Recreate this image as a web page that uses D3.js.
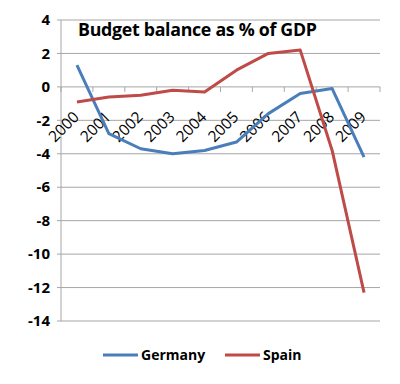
<!DOCTYPE html>
<html>
<head>
<meta charset="utf-8">
<script src="https://cdn.jsdelivr.net/npm/d3@7"></script>
<style>
  body { margin: 0; background: #fff; }
  svg { font-family: "Open Sans", sans-serif; }
</style>
</head>
<body>
<div id="chart"></div>
<script>
// data
const years = ["2000", "2001", "2002", "2003", "2004", "2005", "2006", "2007", "2008", "2009"];
const germany = [1.3, -2.8, -3.7, -4.0, -3.8, -3.3, -1.6, -0.4, -0.1, -4.2];
const spain = [-0.9, -0.6, -0.5, -0.2, -0.3, 1.0, 2.0, 2.2, -3.8, -12.3];
const yTicks = [4, 2, 0, -2, -4, -6, -8, -10, -12, -14];
const seriesNames = ["Germany", "Spain"];
const colors = ["#4a7ebb", "#be4b48"];

const W = 400, H = 384;
const margin = { top: 20, right: 20, bottom: 63, left: 61 };
const width = W - margin.left - margin.right;
const height = H - margin.top - margin.bottom;

const svg = d3.select("#chart").append("svg")
    .attr("width", W).attr("height", H);
const g = svg.append("g")
    .attr("transform", `translate(${margin.left},${margin.top})`);

const x = d3.scaleBand().domain(years).range([0, width]);
const y = d3.scaleLinear().domain([-14, 4]).range([height, 0]);

// gridlines
g.selectAll(".grid").data(yTicks).enter().append("line")
    .attr("x1", -4).attr("x2", width)
    .attr("y1", d => y(d)).attr("y2", d => y(d))
    .attr("stroke", "#a6a6a6").attr("stroke-width", 1);

// y axis line
g.append("line")
    .attr("x1", 0).attr("x2", 0)
    .attr("y1", 0).attr("y2", height)
    .attr("stroke", "#a6a6a6");

// y labels
g.selectAll(".ylab").data(yTicks).enter().append("text")
    .attr("x", -11).attr("y", d => y(d))
    .attr("dy", "0.35em")
    .attr("text-anchor", "end")
    .attr("font-weight", "bold")
    .attr("font-size", 15)
    .text(d => d);

// category axis at 0
const boundaries = years.map(d => x(d)).concat([width]);
g.selectAll(".xtick").data(boundaries).enter().append("line")
    .attr("x1", d => d).attr("x2", d => d)
    .attr("y1", y(0)).attr("y2", y(0) + 5)
    .attr("stroke", "#a6a6a6");

g.selectAll(".xlab").data(years).enter().append("text")
    .attr("text-anchor", "end")
    .attr("font-size", 15.5)
    .attr("transform", d => `translate(${x(d) + x.bandwidth() / 2 + 3},${y(0) + 31}) rotate(-45)`)
    .text(d => d);

// lines
const line = d3.line()
    .x((d, i) => x(years[i]) + x.bandwidth() / 2)
    .y(d => y(d));

[germany, spain].forEach((vals, i) => {
    g.append("path")
        .datum(vals)
        .attr("fill", "none")
        .attr("stroke", colors[i])
        .attr("stroke-width", 3)
        .attr("stroke-linejoin", "round")
        .attr("d", line);
});

// title
svg.append("text")
    .attr("x", 78).attr("y", 36)
    .attr("font-weight", "bold")
    .attr("font-size", 17.8)
    .attr("letter-spacing", -0.3)
    .text("Budget balance as % of GDP");

// legend
const legendX = [103, 225];
const legend = svg.selectAll(".legend").data(seriesNames).enter().append("g")
    .attr("transform", (d, i) => `translate(${legendX[i]},355)`);
legend.append("line")
    .attr("x1", 0).attr("x2", 35)
    .attr("stroke", (d, i) => colors[i])
    .attr("stroke-width", 3);
legend.append("text")
    .attr("x", 38).attr("dy", "0.35em")
    .attr("font-weight", "bold")
    .attr("font-size", 14)
    .text(d => d);
</script>
</body>
</html>
